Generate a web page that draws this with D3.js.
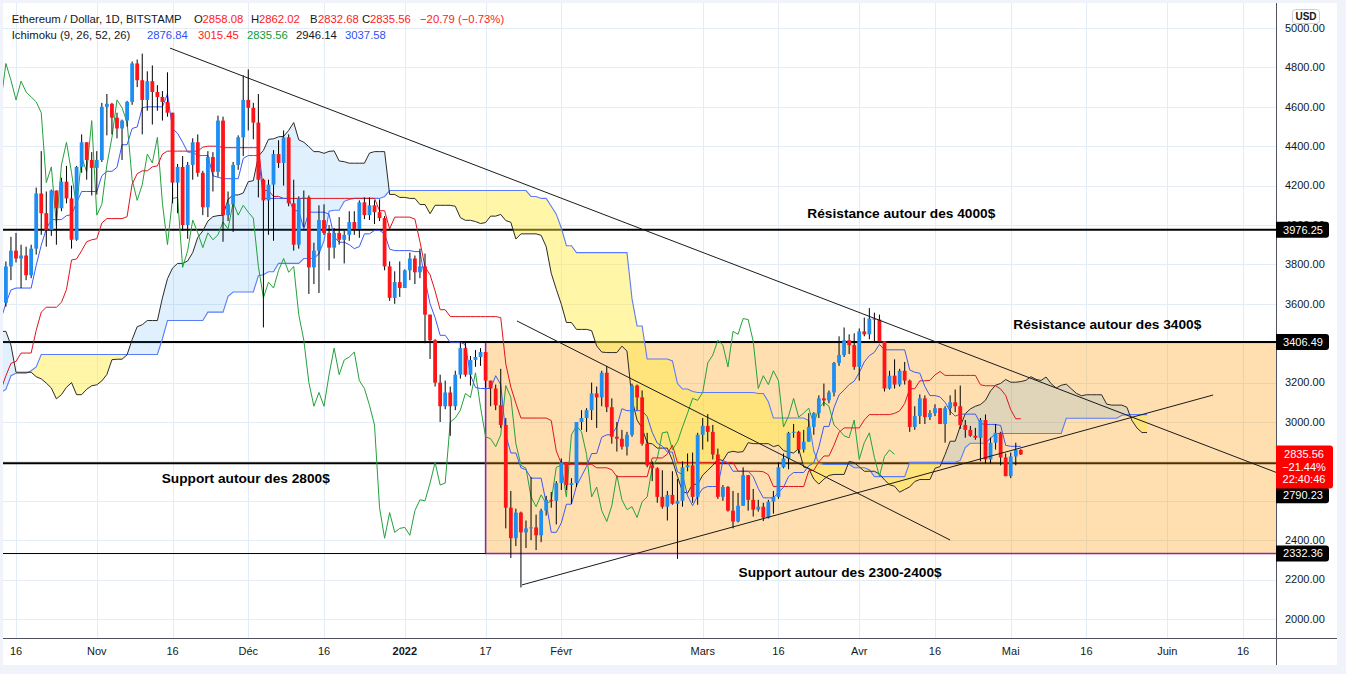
<!DOCTYPE html>
<html><head><meta charset="utf-8">
<script src="https://cdn.jsdelivr.net/npm/d3@7"></script>
<style>
body{margin:0;background:#fff;}
svg{display:block;}
text{font-family:"Liberation Sans",Arial,sans-serif;}
</style>
</head><body>
<svg id="c" width="1346" height="674"></svg>
<script>
// ---------------- DATA (ETH/USD daily, Bitstamp) ----------------
const startDate = "2021-07-28";
const firstOpen = 2300;
const closes = [
 2300,2385,2460,2535,
 2555,2605,2505,2720,2830,2890,3160,3010,3165,3140,3165,3045,3320,3265,3310,3150,3010,3020,3185,3290,3225,3240,3320,3175,3225,3105,3275,3245,3225,3225,3430,
 3830,3785,3940,3890,3950,3925,3430,3495,3425,3210,3265,3410,3290,3430,3610,3575,3400,3430,3330,2980,2760,3075,3155,2930,2925,3060,2930,2810,2850,3000,
 3310,3390,3420,3385,3515,3580,3590,3560,3575,3415,3545,3490,3605,3790,3870,3830,3845,3745,3880,4160,4060,3975,4175,4085,4220,4135,3925,4295,4420,4330,4290,
 4330,4600,4615,4545,4490,4530,4625,4820,4735,4635,4730,4675,4650,4625,4570,4215,4295,4000,4305,4420,4265,4090,4345,4270,4530,4050,4105,4305,4445,4635,
 4595,4520,4230,4125,4205,4360,4315,4445,4110,3900,4135,4140,3785,3870,4025,3960,3885,3960,3925,3950,4015,3980,4115,4050,4100,4065,4035,3790,3630,3710,3680,
 3770,3830,3760,3790,3545,3415,3200,3080,3150,3080,3240,3375,3240,3315,3330,3355,3210,3170,3085,2985,2565,2410,2540,2440,2460,2465,2425,2550,2605,2600,2690,
 2795,2680,2690,3000,3020,3060,3145,3125,3250,3075,2925,2915,2875,2935,3185,3125,2890,2780,2765,2620,2570,2630,2585,2600,2770,2780,2620,2935,
 2980,2950,2835,2620,2670,2550,2495,2575,2730,2605,2555,2570,2515,2595,2620,2770,2815,2945,2950,2860,2900,2975,3045,3120,3110,3150,3300,3340,3415,3390,3280,
 3460,3445,3525,3520,3410,3170,3235,3190,3260,3210,2975,3030,3120,3025,3045,3070,2990,3070,3100,3080,2985,2960,2930,2920,3010,2810,2895,2945,2820,2725,
 2825,2858.08,2835.56
];
const highs = [
 2345,2400,2470,2550,
 2700,2665,2630,2760,2845,2950,3180,3185,3180,3235,3275,3230,3330,3310,3325,3335,3290,3120,3195,3310,3280,3250,3370,3350,3245,3250,3290,3285,3285,3330,3465,
 3845,3830,4030,3970,3985,3970,3935,3540,3560,3505,3295,3440,3425,3440,3615,3670,3580,3535,3450,3350,3100,3100,3175,3160,2970,3120,3160,3060,2950,3050,
 3340,3470,3490,3440,3550,3620,3640,3670,3625,3610,3610,3550,3615,3815,3940,3960,3900,3890,3900,4190,4375,4170,4180,4175,4240,4300,4200,4300,4460,4420,4370,
 4375,4620,4665,4620,4570,4535,4630,4830,4840,4870,4780,4810,4710,4680,4775,4570,4310,4350,4320,4440,4460,4275,4375,4370,4555,4550,4170,4320,4455,4760,
 4790,4620,4665,4235,4230,4380,4430,4480,4460,4230,4145,4175,4150,3910,4100,4105,4000,3985,4040,3970,4070,4070,4125,4140,4140,4125,4130,4045,3815,3765,3815,
 3775,3860,3845,3880,3855,3545,3420,3240,3210,3180,3260,3410,3410,3335,3365,3375,3355,3210,3190,3270,3020,2650,2560,2545,2500,2720,2530,2560,2625,2645,2700,
 2815,2795,2715,3000,3060,3070,3200,3180,3260,3285,3120,3000,2960,2950,3195,3190,3160,2945,2800,2770,2755,2650,2750,2710,2800,2840,2845,2945,
 3020,3040,2985,2865,2680,2675,2650,2640,2770,2730,2660,2605,2590,2605,2650,2795,2840,2950,2990,2955,2960,3045,3050,3135,3195,3160,3305,3435,3480,3445,3450,
 3475,3530,3578,3555,3545,3410,3260,3318,3270,3305,3215,3080,3140,3135,3060,3090,3070,3080,3135,3165,3185,3010,2980,2970,3020,3038,2920,2990,2950,2840,
 2845,2895,2862.02
];
const lows = [
 2240,2270,2300,2440,
 2510,2515,2465,2490,2530,2750,2880,2990,2920,3060,3130,2980,3030,3180,3100,3140,2990,2960,2950,3175,3200,3130,3240,3150,3100,3060,3070,3210,3150,3195,3160,
 3390,3720,3720,3830,3850,3835,3000,3220,3400,3170,3200,3190,3140,3280,3360,3550,3350,3385,3300,2930,2655,2740,3030,2740,2815,2740,2920,2800,2790,2840,
 2970,3270,3355,3280,3370,3390,3480,3540,3535,3400,3400,3400,3420,3585,3720,3810,3680,3720,3730,3850,3950,3890,3945,3900,4070,4110,3880,3920,4265,4230,4150,
 4155,4320,4455,4460,4440,4330,4500,4610,4700,4460,4580,4510,4580,4530,4550,4110,4060,3970,3930,4230,4245,4050,4040,4170,4245,3915,4020,3965,4280,4350,
 4480,4435,4140,3480,3950,3920,4290,4200,4095,3870,3880,3990,3650,3700,3655,3950,3770,3830,3900,3805,3920,3950,3935,4030,4025,4005,4020,3770,3615,3600,3635,
 3680,3720,3700,3730,3400,3320,3180,3000,3065,2930,3060,3220,3230,3185,3280,3285,3175,3080,3060,2970,2460,2310,2370,2160,2360,2400,2350,2390,2525,2565,2480,
 2655,2655,2585,2670,2960,2950,3010,2970,3080,3050,2890,2850,2860,2830,2925,3060,2880,2770,2700,2590,2560,2500,2580,2305,2570,2750,2590,2580,
 2860,2900,2810,2610,2600,2545,2460,2490,2575,2550,2520,2545,2497,2510,2535,2610,2765,2760,2920,2840,2845,2900,2935,3020,3080,3095,3130,3285,3330,3345,3265,
 3210,3435,3420,3405,3400,3155,3165,3170,3180,3190,2950,2960,2990,2990,3010,3030,2990,2895,3035,3050,2965,2920,2925,2910,2800,2790,2790,2860,2780,2725,
 2715,2780,2832.68
];

// Axis ticks
const priceTicks = [2000,2200,2400,2600,2800,3000,3200,3400,3600,3800,4000,4200,4400,4600,4800,5000];
const priceTickLabels = [2000,2200,2400,3000,3200,3600,3800,4000,4200,4400,4600,4800,5000];
const timeTickDates = ["2021-10-16","2021-11-01","2021-11-16","2021-12-01","2021-12-16","2022-01-01","2022-01-17","2022-02-01","2022-03-01","2022-03-16","2022-04-01","2022-04-16","2022-05-01","2022-05-16","2022-06-01","2022-06-16"];
const timeTickLabels = ["16","Nov","16","Déc","16","2022","17","Févr","Mars","16","Avr","16","Mai","16","Juin","16"];

// Drawings
const levelValues = [3976.25, 3406.49, 2790.23, 2332.36];
const zoneStart = "2022-01-17";
const zoneTop = 3406.49, zoneBottom = 2332.36;
const trendLines = [
  [["2021-11-15T12:00", 4898], ["2022-06-30T00:00", 2671]],
  [["2022-01-23T05:00", 3513], ["2022-04-19T00:00", 2401]],
  [["2022-01-24T05:00", 2173], ["2022-06-10T02:00", 3137]]
];
const noteTexts = ["Résistance autour des 4000$","Résistance autour des 3400$","Support autour des 2800$","Support autour des 2300-2400$"];
const noteDates = ["2022-04-09T08:00","2022-05-20T03:00","2021-11-30T12:00","2022-03-28T05:00"];
const notePrices = [4035, 3472, 2690, 2213];

// Legend / labels
const titleText = "Ethereum / Dollar, 1D, BITSTAMP";
const ohlcKeys = ["O","H","B","C"];
const ohlcVals = ["2858.08","2862.02","2832.68","2835.56"];
const changeText = "\u221220.79 (\u22120.73%)";
const ichiTitle = "Ichimoku (9, 26, 52, 26)";
const ichiVals = ["2876.84","3015.45","2835.56","2946.14","3037.58"];
const priceBoxes = [
  {text:"3976.25", value:3976.25, shift:0},
  {text:"3406.49", value:3406.49, shift:0},
  {text:"2790.23", value:2790.23, shift:32},
  {text:"2332.36", value:2332.36, shift:0}
];
const lastPrice = 2835.56;
const lastBox = ["2835.56","\u221221.44%","22:40:46"];

// ---------------- CHART ----------------
const svg = d3.select("#c");
const P = {l:3, r:1276, t:3, b:638};
const dayMs = 864e5;
const pUTC = s => new Date(s.length>10 ? s+"Z" : s+"T00:00Z");
const t0 = pUTC(startDate);
const N = closes.length;
const dates = closes.map((c,i)=>new Date(+t0 + i*dayMs));
const opens = closes.map((c,i)=> i ? closes[i-1] : firstOpen);

const x = d3.scaleUtc().domain([pUTC("2021-10-16"), pUTC("2022-06-16")]).range([16,1243]);
const y = d3.scaleLinear().domain([2000,5000]).range([619,28]);

// frame
svg.append("rect").attr("width",1346).attr("height",674).attr("fill","#f0f3fa");
svg.append("rect").attr("x",P.l).attr("y",P.t).attr("width",1337-P.l).attr("height",665-P.t).attr("fill","#fff");

const defs = svg.append("defs");
defs.append("clipPath").attr("id","pane").append("rect")
  .attr("x",P.l).attr("y",P.t).attr("width",P.r-P.l).attr("height",P.b-P.t);
const g = svg.append("g").attr("clip-path","url(#pane)");

// grid
const gridC = "#e4ecf5";
g.selectAll(".vg").data(timeTickDates).join("line")
  .attr("x1",d=>Math.round(x(pUTC(d)))+0.5).attr("x2",d=>Math.round(x(pUTC(d)))+0.5)
  .attr("y1",P.t).attr("y2",P.b).attr("stroke",gridC);
g.selectAll(".hg").data(priceTicks).join("line")
  .attr("x1",P.l).attr("x2",P.r)
  .attr("y1",d=>Math.round(y(d))+0.5).attr("y2",d=>Math.round(y(d))+0.5).attr("stroke",gridC);

// 2790 level beneath the zone
g.append("line").attr("x1",P.l).attr("x2",P.r)
  .attr("y1",y(levelValues[2])).attr("y2",y(levelValues[2]))
  .attr("stroke","#000").attr("stroke-width",2);

// zone rectangle
const zx = x(pUTC(zoneStart));
g.append("rect").attr("x",zx).attr("y",y(zoneTop)).attr("width",P.r+10-zx)
  .attr("height",y(zoneBottom)-y(zoneTop))
  .attr("fill","rgba(255,152,0,0.31)").attr("stroke","#8e24aa").attr("stroke-width",1.5);

// other levels
[0,1].forEach(k=>{
  g.append("line").attr("x1",P.l).attr("x2",P.r)
    .attr("y1",y(levelValues[k])).attr("y2",y(levelValues[k]))
    .attr("stroke","#000").attr("stroke-width",2);
});
g.append("line").attr("x1",P.l).attr("x2",zx)
  .attr("y1",y(levelValues[3])).attr("y2",y(levelValues[3]))
  .attr("stroke","#000").attr("stroke-width",1);

// ---- Ichimoku ----
function mid(i,n){
  if(i-n+1<0) return null;
  let hi=-Infinity, lo=Infinity;
  for(let k=i-n+1;k<=i;k++){ if(highs[k]>hi)hi=highs[k]; if(lows[k]<lo)lo=lows[k]; }
  return (hi+lo)/2;
}
const tenkan=[], kijun=[], chikou=[], cloud=[];
for(let i=0;i<N;i++){
  const tk=mid(i,9), kj=mid(i,26), sb=mid(i,52);
  if(tk!==null) tenkan.push({t:+dates[i], v:tk});
  if(kj!==null) kijun.push({t:+dates[i], v:kj});
  chikou.push({t:+dates[i]-25*dayMs, v:closes[i]});
  if(sb!==null) cloud.push({t:+dates[i]+25*dayMs, a:(tk+kj)/2, b:sb});
}
// split cloud into bullish / bearish runs
const runs=[]; let cur=null;
cloud.forEach((p,j)=>{
  const up = p.a>=p.b;
  if(!cur){cur={up,pts:[p]};return;}
  if(up===cur.up){cur.pts.push(p);return;}
  const q=cloud[j-1], dq=q.a-q.b, dp=p.a-p.b, f=dq/(dq-dp);
  const m={t:q.t+f*(p.t-q.t), a:q.a+f*(p.a-q.a)}; m.b=m.a;
  cur.pts.push(m); runs.push(cur); cur={up,pts:[m,p]};
});
runs.push(cur);
const cloudArea = d3.area().x(d=>x(d.t)).y0(d=>y(d.b)).y1(d=>y(d.a));
g.selectAll(".cloud").data(runs).join("path")
  .attr("d",r=>cloudArea(r.pts))
  .attr("fill",r=>r.up?"rgba(33,150,243,0.14)":"rgba(255,235,59,0.45)");

const ln = key => d3.line().x(d=>x(d.t)).y(d=>y(d[key]));
g.append("path").attr("d",ln("b")(cloud)).attr("fill","none").attr("stroke","#5b7cfa").attr("stroke-width",1.1);
g.append("path").attr("d",ln("a")(cloud)).attr("fill","none").attr("stroke","#2b2b2b").attr("stroke-width",1);
g.append("path").attr("d",ln("v")(chikou)).attr("fill","none").attr("stroke","#25a03c").attr("stroke-width",1);
g.append("path").attr("d",ln("v")(kijun)).attr("fill","none").attr("stroke","#e0141e").attr("stroke-width",1);
g.append("path").attr("d",ln("v")(tenkan)).attr("fill","none").attr("stroke","#3a5af5").attr("stroke-width",1);

// ---- Candles ----
const idx = d3.range(N).filter(i=>x(dates[i])>P.l-6);
const bw = 3.8;
const upC="#1e8ef2", dnC="#ff1418";
g.selectAll(".wick").data(idx).join("line")
  .attr("x1",i=>x(dates[i])).attr("x2",i=>x(dates[i]))
  .attr("y1",i=>y(highs[i])).attr("y2",i=>y(lows[i]))
  .attr("stroke","#000").attr("stroke-width",1);
g.selectAll(".body").data(idx).join("rect")
  .attr("x",i=>x(dates[i])-bw/2).attr("width",bw)
  .attr("y",i=>y(Math.max(opens[i],closes[i])))
  .attr("height",i=>Math.max(1,Math.abs(y(opens[i])-y(closes[i]))))
  .attr("fill",i=>closes[i]>=opens[i]?upC:dnC);

// ---- Trend lines ----
g.selectAll(".tl").data(trendLines).join("line")
  .attr("x1",d=>x(pUTC(d[0][0]))).attr("y1",d=>y(d[0][1]))
  .attr("x2",d=>x(pUTC(d[1][0]))).attr("y2",d=>y(d[1][1]))
  .attr("stroke","#1a1a1a").attr("stroke-width",1);

// ---- Notes ----
g.selectAll(".note").data(noteTexts).join("text")
  .attr("x",(d,i)=>x(pUTC(noteDates[i]))).attr("y",(d,i)=>y(notePrices[i]))
  .attr("text-anchor","middle").attr("font-weight","bold").attr("font-size","13.7px")
  .attr("fill","#000").text(d=>d);

// ---- Axes frame ----
svg.append("line").attr("x1",P.r+0.5).attr("x2",P.r+0.5).attr("y1",P.t).attr("y2",665).attr("stroke","#50535e");
svg.append("line").attr("x1",P.l).attr("x2",1337).attr("y1",P.b+0.5).attr("y2",P.b+0.5).attr("stroke","#50535e");

// right axis labels
svg.selectAll(".pt").data(priceTickLabels).join("text")
  .attr("x",1285).attr("y",d=>y(d)).attr("dy","0.35em")
  .attr("font-size","11px").attr("fill","#131722").text(d=>d.toFixed(2));

// bottom axis labels
svg.selectAll(".tt").data(timeTickDates).join("text")
  .attr("x",d=>x(pUTC(d))).attr("y",655)
  .attr("text-anchor","middle").attr("font-size","11px").attr("fill","#131722")
  .attr("font-weight",(d,i)=>timeTickLabels[i]==="2022"?"bold":"normal")
  .text((d,i)=>timeTickLabels[i]);

// price boxes
priceBoxes.forEach(b=>{
  const cy = y(b.value) + b.shift;
  svg.append("path").attr("d",`M${P.r},${cy-8} H1326 a3,3 0 0 1 3,3 V${cy+5} a3,3 0 0 1 -3,3 H${P.r} Z`).attr("fill","#000");
  svg.append("text").attr("x",1303).attr("y",cy).attr("dy","0.35em").attr("text-anchor","middle")
    .attr("font-size","11px").attr("fill","#fff").text(b.text);
});
{
  const cy = y(lastPrice);
  svg.append("path").attr("d",`M${P.r},${cy-9} H1330 a3,3 0 0 1 3,3 V${cy+31} a3,3 0 0 1 -3,3 H${P.r} Z`).attr("fill","#ff0000");
  lastBox.forEach((s,k)=>{
    svg.append("text").attr("x",1304).attr("y",cy+k*12.5).attr("dy","0.35em").attr("text-anchor","middle")
      .attr("font-size","11px").attr("fill","#fff").text(s);
  });
}
// USD badge
svg.append("rect").attr("x",1292.5).attr("y",9.5).attr("width",27).attr("height",14).attr("rx",3)
  .attr("fill","#fff").attr("stroke","#c9ccd6");
svg.append("text").attr("x",1306).attr("y",16.5).attr("dy","0.35em").attr("text-anchor","middle")
  .attr("font-size","10px").attr("font-weight","bold").attr("fill","#131722").text("USD");

// ---- Legend ----
const red="#ff1a1a";
const L = svg.append("g").attr("font-size","11.3px");
L.append("text").attr("x",11.7).attr("y",22.5).attr("fill","#131722").text(titleText);
const keyX=[194,251,310,362], valX=[202.5,259,318,370];
ohlcKeys.forEach((k,i)=>{
  L.append("text").attr("x",keyX[i]).attr("y",22.5).attr("fill","#131722").text(k);
  L.append("text").attr("x",valX[i]).attr("y",22.5).attr("fill",red).text(ohlcVals[i]);
});
L.append("text").attr("x",420).attr("y",22.5).attr("fill",red).text(changeText);
L.append("text").attr("x",11.7).attr("y",39).attr("fill","#131722").text(ichiTitle);
const ichiX=[147,198,247,296,345], ichiC=["#2f4ff5",red,"#0a9b3a","#131722","#2f4ff5"];
ichiVals.forEach((v,i)=>{
  L.append("text").attr("x",ichiX[i]).attr("y",39).attr("fill",ichiC[i]).text(v);
});
</script>
</body></html>
